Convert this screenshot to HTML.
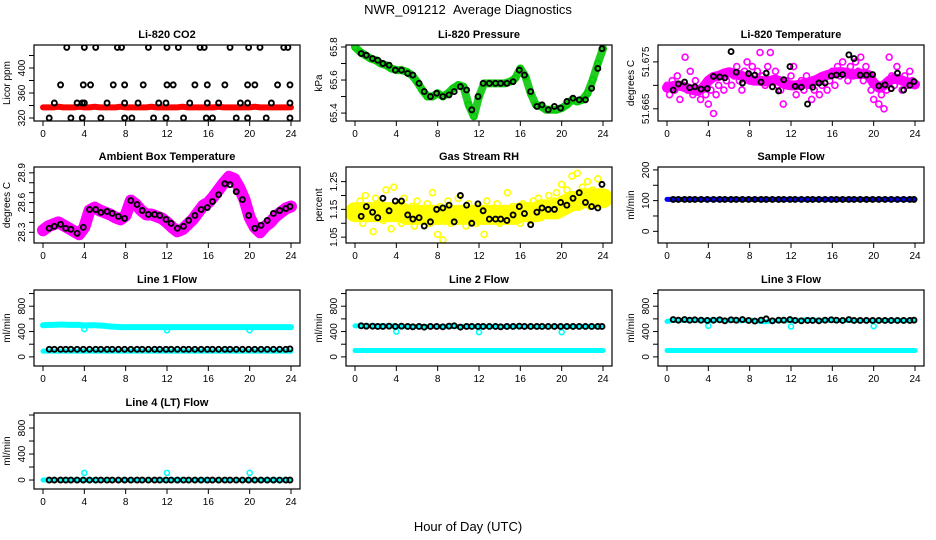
<!DOCTYPE html>
<html><head><meta charset="utf-8"><title>NWR_091212 Average Diagnostics</title>
<style>
html,body{margin:0;padding:0;background:#fff;}
svg{display:block;font-family:"Liberation Sans",Arial,sans-serif;}
.t{font-size:11px;font-weight:bold;text-anchor:middle;}
.tk{font-size:10px;text-anchor:middle;}
.yl{font-size:10px;text-anchor:middle;}
</style></head>
<body>
<svg id="chart" width="936" height="540" viewBox="0 0 936 540" xmlns="http://www.w3.org/2000/svg">
<rect width="936" height="540" fill="#fff"/>
<text x="468" y="14" font-size="13" text-anchor="middle">NWR_091212&#160;&#160;Average Diagnostics</text>
<text x="468" y="531" font-size="13" text-anchor="middle">Hour of Day (UTC)</text>
<g id="panels"></g>
</svg>
<script>
// ---- data ----
const blackHours = [0.6,1.1,1.7,2.2,2.7,3.3,3.9,4.5,5.1,5.6,6.2,6.7,7.3,7.9,8.5,9.1,9.6,10.2,10.8,11.3,11.9,12.4,13.0,13.6,14.1,14.7,15.3,15.9,16.4,17.0,17.6,18.1,18.7,19.3,19.9,20.5,21.1,21.7,22.3,22.9,23.5,23.9];
const co2Hours = [2.3,4,5.1,7.2,7.6,10.2,12,13.1,15.2,15.6,18.1,19.9,21,23.3,23.7, 1.7,3.9,4.6,6.8,7.9,9.7,12,12.6,14.7,15.9,17.6,19.8,20.5,22.7,23.9, 1.1,3.3,3.8,4,6.2,7.9,9.2,11.2,11.9,14.2,15.9,17,19.1,19.8,22.1,23.9, 0.6,2.7,3.8,5.6,7.9,8.6,10.7,11.9,13.6,15.8,16.4,18.7,19.8,21.6,23.9];
const co2Black = [433,433,433,433,433,433,433,433,433,433,433,433,433,433,433, 373,373,373,373,373,373,373,373,373,373,373,373,373,373,373, 344,344,344,344,344,344,344,344,344,344,344,344,344,344,344,344, 320,320,320,320,320,320,320,320,320,320,320,320,320,320,320];
const co2Red = [337,337,337,338,337,337,337,338,337,337,338,337,337,337,337,338,337,337,337,337,337,338,337,337,337,337,337,338,337,337,337,337,337,337,338,337,337,337,337,337,337,338,337,337,337,337,337,337,337];
const presGreen = [65.80,65.77,65.75,65.73,65.72,65.70,65.69,65.67,65.66,65.66,65.65,65.63,65.59,65.54,65.50,65.50,65.52,65.50,65.52,65.55,65.57,65.56,65.45,65.38,65.50,65.58,65.58,65.58,65.58,65.58,65.59,65.61,65.67,65.62,65.52,65.45,65.44,65.42,65.42,65.42,65.43,65.45,65.48,65.47,65.48,65.52,65.60,65.70,65.79];
const presBlack = [65.76,65.75,65.73,65.72,65.70,65.69,65.66,65.66,65.64,65.63,65.58,65.53,65.50,65.52,65.50,65.51,65.53,65.56,65.54,65.42,65.50,65.58,65.58,65.58,65.58,65.58,65.59,65.66,65.63,65.53,65.44,65.45,65.42,65.44,65.43,65.47,65.49,65.48,65.48,65.55,65.67,65.79];
const ltMean = [51.6695,51.6698,51.6700,51.6698,51.6694,51.6690,51.6688,51.6695,51.6710,51.6718,51.6720,51.6725,51.6728,51.6725,51.6722,51.6718,51.6712,51.6710,51.6710,51.6708,51.6710,51.6712,51.6708,51.6702,51.6700,51.6700,51.6702,51.6705,51.6708,51.6712,51.6718,51.6722,51.6725,51.6728,51.6728,51.6726,51.6724,51.6724,51.6725,51.6722,51.6705,51.6695,51.6700,51.6710,51.6715,51.6712,51.6708,51.6705,51.6702];
const ltMagenta = [51.670,51.668,51.671,51.669,51.672,51.667,51.670,51.676,51.669,51.673,51.668,51.671,51.669,51.667,51.670,51.668,51.666,51.669,51.664,51.668,51.670,51.672,51.669,51.671,51.673,51.670,51.672,51.674,51.671,51.669,51.673,51.675,51.672,51.674,51.671,51.673,51.677,51.672,51.670,51.674,51.677,51.671,51.673,51.670,51.669,51.666,51.671,51.670,51.672,51.674,51.668,51.670,51.671,51.669,51.672,51.670,51.667,51.669,51.671,51.668,51.670,51.672,51.669,51.671,51.673,51.670,51.674,51.672,51.675,51.673,51.671,51.674,51.672,51.675,51.673,51.676,51.671,51.674,51.672,51.669,51.667,51.670,51.666,51.668,51.665,51.669,51.676,51.672,51.670,51.674,51.671,51.669,51.672,51.670,51.673,51.671,51.670];
const ltBlack = [51.6690,51.6703,51.6707,51.6695,51.6697,51.6692,51.6693,51.6719,51.6718,51.6716,51.6772,51.6728,51.6705,51.6725,51.6722,51.6707,51.6726,51.6697,51.6688,51.6712,51.6740,51.6698,51.6696,51.6660,51.6696,51.6705,51.6705,51.6720,51.6722,51.6723,51.6765,51.6757,51.6722,51.6722,51.6723,51.6699,51.6701,51.6693,51.6726,51.6690,51.6700,51.6708];
const ambMagenta = [28.32,28.36,28.38,28.40,28.37,28.34,28.31,28.28,28.35,28.52,28.55,28.52,28.50,28.48,28.45,28.43,28.47,28.62,28.58,28.52,28.48,28.48,28.46,28.44,28.40,28.35,28.31,28.33,28.38,28.43,28.50,28.57,28.60,28.66,28.73,28.80,28.86,28.84,28.75,28.63,28.45,28.35,28.30,28.36,28.40,28.46,28.50,28.54,28.56];
const ambBlack = [28.34,28.36,28.38,28.34,28.33,28.29,28.35,28.53,28.53,28.50,28.51,28.49,28.46,28.44,28.62,28.58,28.52,28.48,28.48,28.47,28.43,28.39,28.34,28.36,28.42,28.47,28.53,28.55,28.61,28.68,28.79,28.78,28.71,28.63,28.47,28.34,28.37,28.42,28.49,28.52,28.54,28.56];
const rhMean = [1.14,1.14,1.14,1.14,1.14,1.14,1.14,1.14,1.14,1.14,1.13,1.13,1.13,1.13,1.13,1.13,1.13,1.13,1.13,1.13,1.13,1.13,1.13,1.13,1.13,1.13,1.13,1.13,1.13,1.13,1.13,1.13,1.14,1.14,1.14,1.14,1.15,1.15,1.15,1.15,1.16,1.17,1.18,1.18,1.19,1.19,1.19,1.19,1.19];
const rhYellow = [1.15,1.12,1.18,1.10,1.20,1.14,1.16,1.07,1.19,1.13,1.17,1.11,1.22,1.15,1.08,1.23,1.13,1.17,1.10,1.19,1.14,1.12,1.16,1.09,1.18,1.13,1.15,1.11,1.17,1.10,1.21,1.14,1.06,1.16,1.04,1.12,1.18,1.10,1.15,1.13,1.19,1.11,1.14,1.09,1.17,1.12,1.15,1.10,1.16,1.13,1.06,1.18,1.11,1.15,1.12,1.17,1.10,1.14,1.13,1.21,1.11,1.16,1.12,1.15,1.10,1.17,1.13,1.16,1.11,1.18,1.14,1.19,1.12,1.16,1.15,1.20,1.13,1.18,1.21,1.16,1.24,1.19,1.22,1.15,1.27,1.20,1.28,1.17,1.23,1.19,1.25,1.16,1.22,1.18,1.26,1.20,1.21];
const rhBlack = [1.125,1.16,1.14,1.12,1.19,1.145,1.18,1.18,1.13,1.115,1.12,1.09,1.105,1.15,1.155,1.165,1.105,1.20,1.165,1.10,1.17,1.145,1.115,1.115,1.115,1.11,1.13,1.16,1.135,1.095,1.14,1.155,1.15,1.15,1.175,1.165,1.19,1.21,1.175,1.16,1.155,1.24];
const sfBlue = [104,104,104,104,104,104,104,104,104,104,104,104,104,104,104,104,104,104,104,104,104,104,104,104,104,104,104,104,104,104,104,104,104,104,104,104,104,104,104,104,104,104,104,104,104,104,104,104,104];
const sfBlack = [104,104,104,104,104,104,104,104,104,104,104,104,104,104,104,104,104,104,104,104,104,104,104,104,104,104,104,104,104,104,104,104,104,104,104,104,104,104,104,104,104,104];
const l1CyanHi = [500,505,505,510,510,505,505,505,495,500,500,495,490,480,475,470,470,470,470,470,470,470,470,470,470,470,470,470,470,470,470,470,470,470,470,470,470,470,470,470,470,470,470,470,470,470,470,470,470];
const l1CyanLo = [90,90,90,90,90,90,90,90,90,90,90,90,90,90,90,90,90,90,90,90,90,90,90,90,90,90,90,90,90,90,90,90,90,90,90,90,90,90,90,90,90,90,90,90,90,90,90,90,90];
const l1Black = [120,120,120,120,120,120,120,120,120,120,120,120,120,120,120,120,120,120,120,120,120,120,120,120,120,120,120,120,120,120,120,120,120,120,120,120,120,120,120,120,120,125];
const l2CyanHi = [490,490,490,490,490,490,490,490,480,480,480,480,480,480,480,480,480,480,480,480,480,480,480,480,480,480,480,480,480,480,480,480,480,480,480,480,480,480,480,480,480,480,480,480,480,480,480,480,480];
const l2CyanLo = [100,100,100,100,100,100,100,100,100,100,100,100,100,100,100,100,100,100,100,100,100,100,100,100,100,100,100,100,100,100,100,100,100,100,100,100,100,100,100,100,100,100,100,100,100,100,100,100,100];
const l2Black = [490,485,485,480,480,485,480,485,480,475,480,470,480,480,475,485,490,470,480,480,480,480,480,480,475,480,480,485,480,480,480,480,480,480,480,480,480,480,480,480,480,480];
const l3CyanHi = [560,575,575,575,580,580,575,580,575,580,585,575,580,575,570,575,580,575,560,555,565,570,575,570,575,575,580,585,580,580,575,580,575,575,575,575,575,575,575,575,575,575,575,575,575,575,575,575,575];
const l3CyanLo = [100,100,100,100,100,100,100,100,100,100,100,100,100,100,100,100,100,100,100,100,100,100,100,100,100,100,100,100,100,100,100,100,100,100,100,100,100,100,100,100,100,100,100,100,100,100,100,100,100];
const l3Black = [590,580,590,580,585,580,575,580,585,570,585,580,590,575,565,580,600,570,580,580,590,575,570,575,575,570,580,585,580,575,590,575,575,575,575,575,575,575,575,575,575,580];
const l4Cyan = [0,0,0,0,0,0,0,0,0,0,0,0,0,0,0,0,0,0,0,0,0,0,0,0,0,0,0,0,0,0,0,0,0,0,0,0,0,0,0,0,0,0,0,0,0,0,0,0,0];
const l4Black = [0,0,0,0,0,0,0,0,0,0,0,0,0,0,0,0,0,0,0,0,0,0,0,0,0,0,0,0,0,0,0,0,0,0,0,0,0,0,0,0,0,0];
const dipHours = [4,12,20];
const l1Dips = [440,420,420];
const l2Dips = [400,390,390];
const l3Dips = [490,480,485];
const l4Dips = [110,110,110];
const xTicks = [0,4,8,12,16,20,24];

// ---- drawing ----
const NS = "http://www.w3.org/2000/svg";
const root = document.getElementById('panels');
const colL = [34,346,658], rowT = [45,167,290,413], W = 266, H = 76;

function mk(tag, attrs, parent) {
  const e = document.createElementNS(NS, tag);
  for (const k in attrs) e.setAttribute(k, attrs[k]);
  parent.appendChild(e);
  return e;
}
function evenHours(n) { const a = []; for (let i = 0; i < n; i++) a.push(i * 24 / (n - 1)); return a; }

function panel(cfg) {
  const L = colL[cfg.col], T = rowT[cfg.row];
  const g = mk('g', {}, root);
  
  
  const xs = h => L + 9 + h / 24 * (W - 18);
  const ys = v => T + (cfg.yMax - v) / (cfg.yMax - cfg.yMin) * H;
  const title = mk('text', {x: L + W / 2, y: T - 7, class: 't'}, g);
  title.textContent = cfg.title;
  
  
  const cid = 'clip-' + cfg.name;
  const cp = mk('clipPath', {id: cid}, g);
  mk('rect', {x: L, y: T, width: W, height: H}, cp);
  const plot = mk('g', {'clip-path': 'url(#' + cid + ')'}, g);
  cfg.draw(plot, xs, ys);
  const box = mk('rect', {x: L, y: T, width: W, height: H, fill: 'none', stroke: '#000', 'stroke-width': 1.2}, g);
  
  
  const xa = mk('g', {}, g);
  
  
  xTicks.forEach(t => {
    mk('line', {x1: xs(t), x2: xs(t), y1: T + H, y2: T + H + 5, stroke: '#000'}, xa);
    const lb = mk('text', {x: xs(t), y: T + H + 16, class: 'tk'}, xa);
    lb.textContent = t;
  });
  const ya = mk('g', {}, g);
  
  
  const tks = cfg.yTicks;
  mk('line', {x1: L, x2: L, y1: ys(tks[0]), y2: ys(tks[tks.length - 1]), stroke: '#000'}, ya);
  tks.forEach(t => {
    mk('line', {x1: L - 5, x2: L, y1: ys(t), y2: ys(t), stroke: '#000'}, ya);
  });
  cfg.yLabels.forEach(t => {
    const y = ys(t);
    const lb = mk('text', {x: 0, y: 0, class: 'tk', transform: 'translate(' + (L - 9) + ',' + y + ') rotate(-90)'}, ya);
    lb.textContent = cfg.fmt ? cfg.fmt(t) : t;
  });
  const yt = mk('text', {class: 'yl', transform: 'translate(' + (L - 24) + ',' + (T + H / 2) + ') rotate(-90)'}, g);
  yt.textContent = cfg.yTitle;
  
  
}

function band(p, xs, ys, hrs, vals, color, w) {
  const pts = hrs.map((h, i) => xs(h) + ',' + ys(vals[i])).join(' ');
  const pl = mk('polyline', {points: pts, fill: 'none', stroke: color, 'stroke-width': w, 'stroke-linejoin': 'round', 'stroke-linecap': 'round'}, p);
  
  
}
function pts(p, xs, ys, hrs, vals, color, r, sw, name) {
  const g = mk('g', {}, p);
  
  
  hrs.forEach((h, i) => {
    const c = mk('circle', {cx: xs(h), cy: ys(vals[i]), r: r, fill: 'none', stroke: color, 'stroke-width': sw}, g);
    
    
  });
}
const H49 = evenHours(49);
const flowTicks = [0,200,400,600,800,1000], flowLabels = [0,400,800];

panel({name:'co2', title:'Li-820 CO2', col:0, row:0, yMin:315.2, yMax:436.8, yTicks:[320,340,360,380,400,420], yLabels:[320,360,400], yTitle:'Licor ppm',
  draw:(p,xs,ys)=>{ band(p,xs,ys,H49,co2Red,'#ff0000',6); pts(p,xs,ys,co2Hours,co2Black,'#000',2.5,1.9,'co2-black-points'); }});
panel({name:'pressure', title:'Li-820 Pressure', col:1, row:0, yMin:65.352, yMax:65.812, yTicks:[65.4,65.5,65.6,65.7,65.8], yLabels:[65.4,65.6,65.8], yTitle:'kPa', fmt:v=>v.toFixed(1),
  draw:(p,xs,ys)=>{ band(p,xs,ys,H49,presGreen,'#22cc22',8); pts(p,xs,ys,H49,presGreen,'#00cc00',3,1.5,'pressure-green-points'); pts(p,xs,ys,blackHours,presBlack,'#000',2.5,1.9,'pressure-black-points'); }});
panel({name:'li-temp', title:'Li-820 Temperature', col:2, row:0, yMin:51.6624, yMax:51.6786, yTicks:[51.665,51.670,51.675], yLabels:[51.665,51.675], yTitle:'degrees C', fmt:v=>v.toFixed(3),
  draw:(p,xs,ys)=>{ band(p,xs,ys,H49,ltMean,'#ff00ff',10); pts(p,xs,ys,evenHours(ltMagenta.length),ltMagenta,'#ff00ff',3,1.6,'li-temp-magenta-points'); pts(p,xs,ys,blackHours,ltBlack,'#000',2.5,1.9,'li-temp-black-points'); }});
panel({name:'ambient-temp', title:'Ambient Box Temperature', col:0, row:1, yMin:28.192, yMax:28.959, yTicks:[28.3,28.4,28.5,28.6,28.7,28.8,28.9], yLabels:[28.3,28.6,28.9], yTitle:'degrees C', fmt:v=>v.toFixed(1),
  draw:(p,xs,ys)=>{ band(p,xs,ys,H49,ambMagenta,'#ff00ff',12); pts(p,xs,ys,blackHours,ambBlack,'#000',2.5,1.9,'ambient-black-points'); }});
panel({name:'rh', title:'Gas Stream RH', col:1, row:1, yMin:1.0289, yMax:1.3026, yTicks:[1.05,1.10,1.15,1.20,1.25], yLabels:[1.05,1.15,1.25], yTitle:'percent', fmt:v=>v.toFixed(2),
  draw:(p,xs,ys)=>{ band(p,xs,ys,H49,rhMean,'#ffff00',20); pts(p,xs,ys,evenHours(rhYellow.length),rhYellow,'#ffff00',3,1.6,'rh-yellow-points'); pts(p,xs,ys,blackHours,rhBlack,'#000',2.5,1.9,'rh-black-points'); }});
panel({name:'sample-flow', title:'Sample Flow', col:2, row:1, yMin:-38, yMax:209.5, yTicks:[0,50,100,150,200], yLabels:[0,100,200], yTitle:'ml/min',
  draw:(p,xs,ys)=>{ band(p,xs,ys,H49,sfBlue,'#0000ff',5); pts(p,xs,ys,blackHours,sfBlack,'#000',2.5,1.9,'sample-flow-black-points'); }});
panel({name:'line1-flow', title:'Line 1 Flow', col:0, row:2, yMin:-144, yMax:1056, yTicks:flowTicks, yLabels:flowLabels, yTitle:'ml/min',
  draw:(p,xs,ys)=>{ band(p,xs,ys,H49,l1CyanHi,'#00ffff',6); band(p,xs,ys,H49,l1CyanLo,'#00ffff',5); pts(p,xs,ys,dipHours,l1Dips,'#00ffff',2.5,1.6,'line1-dips'); pts(p,xs,ys,blackHours,l1Black,'#000',2.5,1.9,'line1-black-points'); }});
panel({name:'line2-flow', title:'Line 2 Flow', col:1, row:2, yMin:-144, yMax:1056, yTicks:flowTicks, yLabels:flowLabels, yTitle:'ml/min',
  draw:(p,xs,ys)=>{ band(p,xs,ys,H49,l2CyanHi,'#00ffff',5); band(p,xs,ys,H49,l2CyanLo,'#00ffff',5); pts(p,xs,ys,dipHours,l2Dips,'#00ffff',2.5,1.6,'line2-dips'); pts(p,xs,ys,blackHours,l2Black,'#000',2.5,1.9,'line2-black-points'); }});
panel({name:'line3-flow', title:'Line 3 Flow', col:2, row:2, yMin:-144, yMax:1056, yTicks:flowTicks, yLabels:flowLabels, yTitle:'ml/min',
  draw:(p,xs,ys)=>{ band(p,xs,ys,H49,l3CyanHi,'#00ffff',5); band(p,xs,ys,H49,l3CyanLo,'#00ffff',5); pts(p,xs,ys,dipHours,l3Dips,'#00ffff',2.5,1.6,'line3-dips'); pts(p,xs,ys,blackHours,l3Black,'#000',2.5,1.9,'line3-black-points'); }});
panel({name:'line4-flow', title:'Line 4 (LT) Flow', col:0, row:3, yMin:-138, yMax:1031, yTicks:flowTicks, yLabels:flowLabels, yTitle:'ml/min',
  draw:(p,xs,ys)=>{ band(p,xs,ys,H49,l4Cyan,'#00ffff',5); pts(p,xs,ys,dipHours,l4Dips,'#00ffff',2.5,1.6,'line4-spikes'); pts(p,xs,ys,blackHours,l4Black,'#000',2.5,1.9,'line4-black-points'); }});
</script>
</body></html>
